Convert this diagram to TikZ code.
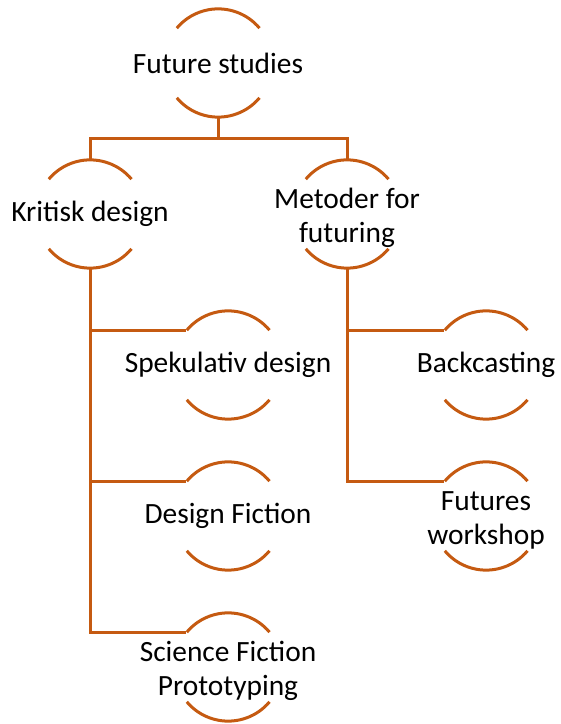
\documentclass[tikz,border=0pt]{standalone}
\usepackage{fontspec}
\setmainfont{Carlito}
\usepackage{tikz}
\usetikzlibrary{positioning}
\definecolor{rust}{RGB}{197,90,17}
\newcommand{\twolines}[2]{\raisebox{-11.4pt}[0pt][0pt]{\begin{tabular}{@{}c@{}}#1\\#2\end{tabular}}}

\begin{document}
\begin{tikzpicture}[x=1pt,y=1pt]
\tikzset{topic/.style = {shape=circle,minimum size=108pt,inner sep=0pt,
  font=\fontsize{29.4}{34}\selectfont}}
\tikzset{link/.style = {draw=rust,line width=3pt}}
\useasboundingbox (0,0) rectangle (561,724);
\node[topic] (fs) at (218,661) {\makebox[0pt]{Future studies}};
\node[topic] (kd) at (90,510) {\makebox[0pt]{Kritisk design}};
\node[topic] (mf) at (347,510) {\makebox[0pt]{\twolines{Metoder for}{futuring}}};
\node[topic] (sd) at (228,359) {\makebox[0pt]{Spekulativ design}};
\node[topic] (bc) at (486,359) {\makebox[0pt]{Backcasting}};
\node[topic] (df) at (228,208) {\makebox[0pt]{Design Fiction}};
\node[topic] (fw) at (486,208) {\makebox[0pt]{\twolines{Futures}{workshop}}};
\node[topic] (sf) at (228,57) {\makebox[0pt]{\twolines{Science Fiction}{Prototyping}}};
% arcs above and below each topic
\foreach \n in {fs,kd,mf,sd,bc,df,fw,sf} {
  \draw[link] (\n.40) arc[start angle=40,end angle=140,radius=54pt];
  \draw[link] (\n.-40) arc[start angle=-40,end angle=-140,radius=54pt];
}
% tree lines
\draw[link] (fs.south) -- ++(0,-21) -| (kd.north);
\draw[link] (fs.south) -- ++(0,-21) -| (mf.north);
\draw[link] (kd.south) |- (sd.140);
\draw[link] (kd.south) |- (df.140);
\draw[link] (kd.south) |- (sf.140);
\draw[link] (mf.south) |- (bc.140);
\draw[link] (mf.south) |- (fw.140);
\end{tikzpicture}
\end{document}
